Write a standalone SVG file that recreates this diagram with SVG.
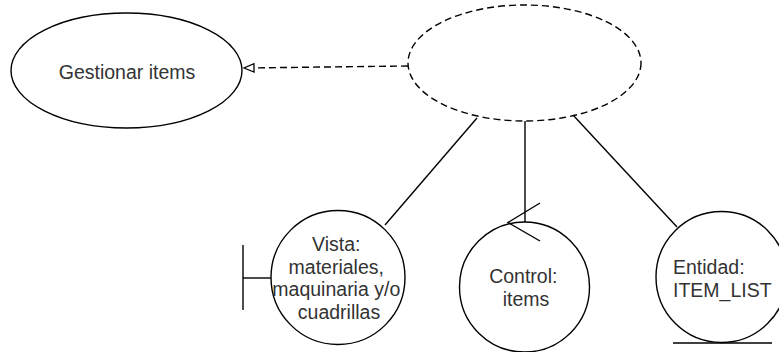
<svg xmlns="http://www.w3.org/2000/svg" width="779" height="352" viewBox="0 0 779 352">
  <defs>
    <style>
      .shape { fill: #ffffff; stroke: #000000; stroke-width: 1.4; }
      .line { fill: none; stroke: #000000; stroke-width: 1.4; }
      .dashed { stroke-dasharray: 7 4; }
      .label { font-family: "Liberation Sans", Arial, sans-serif; font-size: 19.5px; fill: #333333; }
    </style>
    <!-- hollow triangle head, tip at the end of the line -->
    <marker id="openTriangle" markerWidth="14" markerHeight="12" refX="12" refY="6" orient="auto" markerUnits="userSpaceOnUse">
      <path d="M12,6 L2,1.8 L2,10.2 Z" fill="#ffffff" stroke="#000000" stroke-width="1.3"/>
    </marker>
  </defs>
  <rect width="779" height="352" fill="#ffffff"/>

  <!-- connectors -->
  <g id="connectors">
    <line class="line dashed" x1="408" y1="66" x2="244" y2="68" marker-end="url(#openTriangle)"/>
    <line class="line" x1="385" y1="225" x2="477" y2="118"/>
    <line class="line" x1="525" y1="121" x2="525" y2="222"/>
    <line class="line" x1="677" y1="227" x2="573" y2="115"/>
  </g>

  <!-- use case -->
  <g id="gestionar-items">
    <ellipse class="shape" cx="126.5" cy="70.5" rx="115.5" ry="57.5"/>
    <text class="label" x="127" y="79" text-anchor="middle">Gestionar items</text>
  </g>

  <!-- unnamed realization -->
  <g id="realizacion">
    <ellipse class="shape dashed" cx="524.5" cy="63" rx="116.5" ry="58"/>
  </g>

  <!-- boundary -->
  <g id="vista">
    <line class="line" x1="243" y1="245" x2="243" y2="310"/>
    <line class="line" x1="243" y1="278" x2="271" y2="278"/>
    <circle class="shape" cx="338" cy="277.5" r="67"/>
    <text class="label" text-anchor="middle">
      <tspan x="339" y="251">Vista:</tspan>
      <tspan x="339" y="274">materiales,</tspan>
      <tspan x="339" y="296">maquinaria y/o</tspan>
      <tspan x="339" y="319">cuadrillas</tspan>
    </text>
  </g>

  <!-- control -->
  <g id="control">
    <circle class="shape" cx="524.5" cy="287" r="65"/>
    <polyline class="line" points="540,203 508,222.5 540,241"/>
    <text class="label" text-anchor="middle">
      <tspan x="526" y="283">Control:</tspan>
      <tspan x="526" y="306">items</tspan>
    </text>
  </g>

  <!-- entity -->
  <g id="entidad">
    <circle class="shape" cx="721.5" cy="277" r="65.5"/>
    <line class="line" x1="673" y1="343" x2="772" y2="343"/>
    <text class="label">
      <tspan x="673" y="274">Entidad:</tspan>
      <tspan x="673" y="297">ITEM_LIST</tspan>
    </text>
  </g>
</svg>
